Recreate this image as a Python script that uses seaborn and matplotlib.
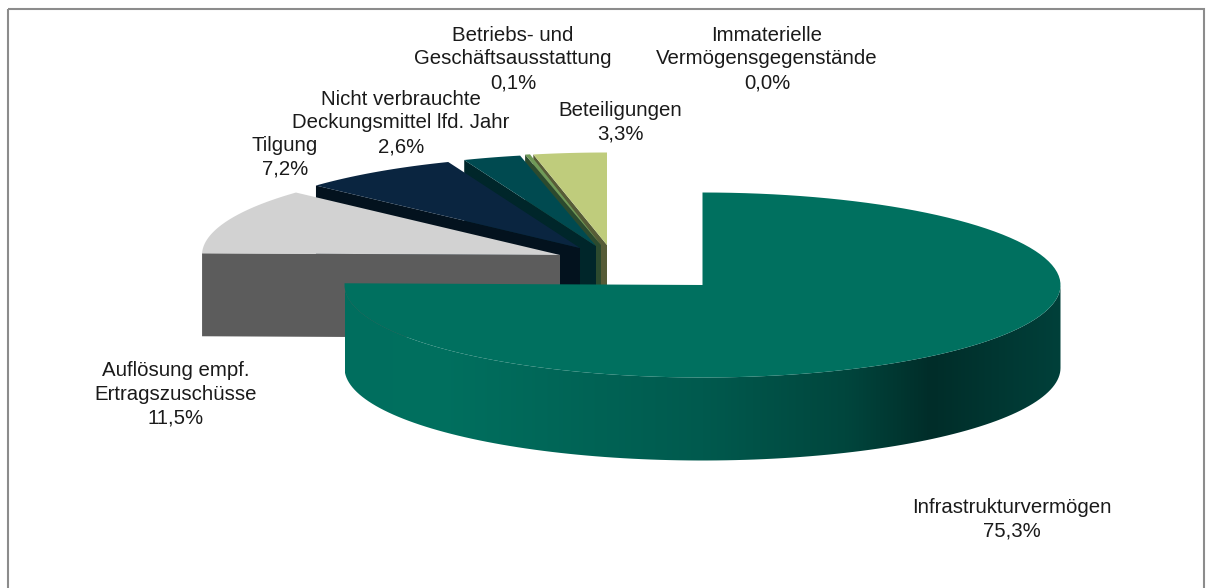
import numpy as np
import seaborn as sns
import matplotlib.pyplot as plt
from matplotlib.colors import LinearSegmentedColormap
from matplotlib.patches import Polygon, Rectangle

categories = ['Infrastrukturvermögen', 'Auflösung empf.\nErtragszuschüsse', 'Tilgung',
              'Nicht verbrauchte\nDeckungsmittel lfd. Jahr', 'Betriebs- und\nGeschäftsausstattung',
              'Immaterielle\nVermögensgegenstände', 'Beteiligungen']
values = [75.3, 11.5, 7.2, 2.6, 0.1, 0.0, 3.3]
value_labels = ['75,3%', '11,5%', '7,2%', '2,6%', '0,1%', '0,0%', '3,3%']

top_colors = ['#00705F', '#D2D2D2', '#0A2540', '#004A50', '#6F9A58', '#8A9A58', '#BFCC7C']
wall_colors = ['#00705F', '#5C5C5C', '#03121E', '#00262A', '#2C4A2E', '#4A5530', '#575C37']

# where each slice tip lands once the pie is exploded, and label anchors
tips = [(702.5, 285), (560, 255), (580, 248), (596, 246), (601, 245), (603, 245), (607, 245)]
label_pos = [(1012, 519), (176, 394), (285, 157), (401, 123), (513, 59), (767, 59), (620, 122)]

RX, RY, DEPTH = 358, 92.5, 83

sns.set_theme(style='white')
plt.rcParams['font.family'] = ['Liberation Sans', 'DejaVu Sans']

fig, ax = plt.subplots(figsize=(12.14, 5.88), dpi=100)
ax.set_position([0, 0, 1, 1])
ax.set_xlim(0, 1214)
ax.set_ylim(588, 0)
ax.axis('off')

ax.add_patch(Rectangle((8, 9), 1196, 600, fill=False, ec='#8C8C8C', lw=1.5))


def rim(tip, a0, a1, n=120):
    # angles run clockwise from 12 o'clock, in degrees
    t = np.radians(np.linspace(a0, a1, n))
    return np.column_stack([tip[0] + RX * np.sin(t), tip[1] - RY * np.cos(t)])


angles = np.cumsum([0] + values) * 3.6

# back to front: smallest exploded slices first, the big slice last
for i in range(len(values) - 1, 0, -1):
    if values[i] == 0:
        continue
    a0, a1 = angles[i], max(angles[i + 1], angles[i] + 0.8)
    tip = np.array(tips[i], dtype=float)
    edge = rim(tip, a0, a0, 2)[0]
    down = np.array([0, DEPTH])
    # cut face at the slice's first edge, then the top
    ax.add_patch(Polygon([tip, edge, edge + down, tip + down], fc=wall_colors[i], ec='none', zorder=9 - i))
    ax.add_patch(Polygon(np.vstack([[tip], rim(tip, a0, a1)]), fc=top_colors[i], ec='none', zorder=9 - i))

# main slice: outer wall with horizontal shading, then the top
tip = tips[0]
front = rim(tip, 90, 270)
wall = np.vstack([front, (front + [0, DEPTH])[::-1]])
wall_patch = Polygon(wall, fc='none', ec='none')
ax.add_patch(wall_patch)
shade = LinearSegmentedColormap.from_list('wall', [(0, '#006E5E'), (0.13, '#00705F'), (0.5, '#005A4E'),
                                                   (0.7, '#00463D'), (0.82, '#002D29'), (1, '#00403A')])
im = ax.imshow(np.linspace(0, 1, 256)[None, :], cmap=shade, extent=(tip[0] - RX, tip[0] + RX, 480, 270),
               aspect='auto', zorder=20)
im.set_clip_path(wall_patch)
ax.set_xlim(0, 1214)
ax.set_ylim(588, 0)
ax.add_patch(Polygon(np.vstack([[tip], rim(tip, angles[0], angles[1])]), fc=top_colors[0], ec='none', zorder=21))

for name, val, (x, y) in zip(categories, value_labels, label_pos):
    ax.text(x, y, name + '\n' + val, ha='center', va='center', fontsize=14.7, color='#1a1a1a',
            linespacing=1.33, zorder=30)

fig.savefig('out.png', dpi=100)
